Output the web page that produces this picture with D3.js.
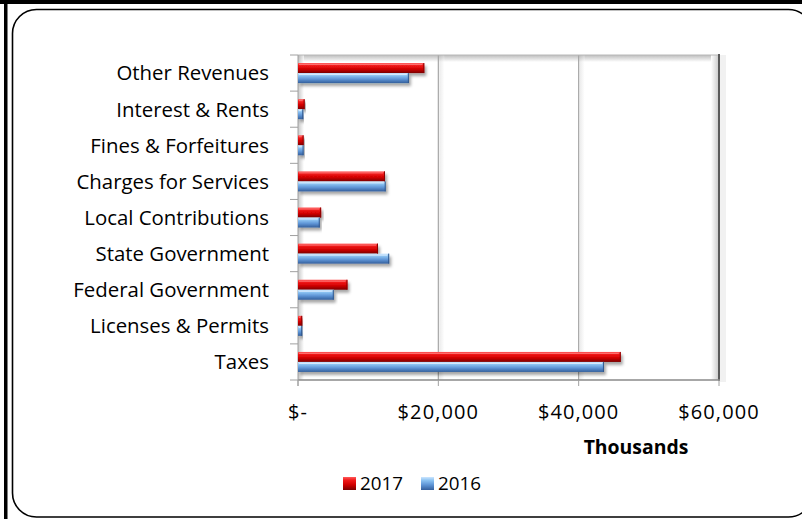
<!DOCTYPE html>
<html><head><meta charset="utf-8">
<script src="https://cdn.jsdelivr.net/npm/d3@7/dist/d3.min.js"></script>
<style>html,body{margin:0;padding:0;background:#fff;}svg{display:block;}</style>
</head><body><svg id="c" width="802" height="519"></svg>
<script>
const categories = ["Other Revenues","Interest & Rents","Fines & Forfeitures","Charges for Services","Local Contributions","State Government","Federal Government","Licenses & Permits","Taxes"];
const series = ["2017","2016"];
const values2017 = [18000, 950, 800, 12400, 3300, 11400, 7050, 600, 46000];
const values2016 = [15800, 750, 800, 12500, 3100, 13000, 5100, 600, 43600];
const xTicks = [0, 20000, 40000, 60000];
const xTickLabels = ["$-", "$20,000", "$40,000", "$60,000"];
const axisTitle = "Thousands";

const svg = d3.select("#c");
const font = "'Open Sans', sans-serif";

// defs
const defs = svg.append("defs");
function grad(id, stops){
  const g = defs.append("linearGradient").attr("id", id).attr("x1",0).attr("y1",0).attr("x2",0).attr("y2",1);
  stops.forEach(s => g.append("stop").attr("offset", s[0]).attr("stop-color", s[1]));
}
grad("gRed", [[0,"#ff5a5a"],[0.25,"#f01818"],[0.6,"#d00000"],[1,"#7a0000"]]);
grad("gBlue", [[0,"#cde6ff"],[0.25,"#8cc3f2"],[0.6,"#5f95d6"],[1,"#345f9c"]]);
const f = defs.append("filter").attr("id","sh").attr("x","-5%").attr("y","-30%").attr("width","115%").attr("height","190%");
f.append("feDropShadow").attr("dx",2).attr("dy",3).attr("stdDeviation",1.6).attr("flood-color","#000").attr("flood-opacity",0.35);
const topShade = defs.append("linearGradient").attr("id","topShade").attr("x1",0).attr("y1",0).attr("x2",0).attr("y2",1);
topShade.append("stop").attr("offset",0).attr("stop-color","#bdbdbd");
topShade.append("stop").attr("offset",1).attr("stop-color","#ffffff");
const rightShade = defs.append("linearGradient").attr("id","rightShade").attr("x1",0).attr("y1",0).attr("x2",1).attr("y2",0);
rightShade.append("stop").attr("offset",0).attr("stop-color","#ffffff");
rightShade.append("stop").attr("offset",1).attr("stop-color","#c8c8c8");
const leftShade = defs.append("linearGradient").attr("id","leftShade").attr("x1",0).attr("y1",0).attr("x2",1).attr("y2",0);
leftShade.append("stop").attr("offset",0).attr("stop-color","#b0b0b0");
leftShade.append("stop").attr("offset",1).attr("stop-color","#ffffff");

// frame
svg.append("rect").attr("x",0).attr("y",0).attr("width",802).attr("height",4).attr("fill","#000");
svg.append("rect").attr("x",4).attr("y",0).attr("width",3.5).attr("height",519).attr("fill","#000");
svg.append("rect").attr("x",12.5).attr("y",9.5).attr("width",800).attr("height",507.5)
  .attr("rx",24).attr("ry",24).attr("fill","#fff").attr("stroke","#000").attr("stroke-width",1.6);

const L = 298, R = 719, T = 55, B = 380;
const x = d3.scaleLinear().domain([0, 60000]).range([L, R]);
const y = d3.scaleBand().domain(categories).range([T, B]).paddingInner(0.446).paddingOuter(0.223);
const ys = d3.scaleBand().domain(series).range([0, y.bandwidth()]);

// back wall shading
const g = svg.append("g");
g.append("rect").attr("x",L).attr("y",T).attr("width",R-L).attr("height",7).attr("fill","url(#topShade)");
g.append("rect").attr("x",R-8).attr("y",T).attr("width",8).attr("height",B-T).attr("fill","url(#rightShade)");
g.append("rect").attr("x",L).attr("y",T).attr("width",6).attr("height",B-T).attr("fill","url(#leftShade)").attr("opacity",0.7);
g.append("rect").attr("x",R+1).attr("y",T).attr("width",6).attr("height",B-T+2).attr("fill","#eee").attr("opacity",0.8);

// gridlines
g.selectAll("line.grid").data(xTicks.slice(1, -1)).join("line")
  .attr("x1", d => x(d)).attr("x2", d => x(d)).attr("y1", T).attr("y2", B)
  .attr("stroke", "#a6a6a6").attr("stroke-width", 1.2);
g.selectAll("rect.gs").data(xTicks.slice(1, -1)).join("rect")
  .attr("x", d => x(d)+1).attr("y", T).attr("width", 5).attr("height", B-T).attr("fill","url(#leftShade)").attr("opacity",0.25);
// top edge
g.append("line").attr("x1",L).attr("x2",R).attr("y1",T).attr("y2",T).attr("stroke","#b8b8b8").attr("stroke-width",1);
// right wall
g.append("line").attr("x1",R).attr("x2",R).attr("y1",T-1).attr("y2",B+1).attr("stroke","#5a5a5a").attr("stroke-width",2);
// floor
g.append("line").attr("x1",L).attr("x2",R+1).attr("y1",B).attr("y2",B).attr("stroke","#8a8a8a").attr("stroke-width",1.5);
// left axis
g.append("line").attr("x1",L).attr("x2",L).attr("y1",T).attr("y2",B+6).attr("stroke","#a0a0a0").attr("stroke-width",1);
// y ticks at band boundaries
const bounds = categories.map(c => y(c) - y.step()*y.paddingInner()/2).concat([B]);
g.selectAll("line.yt").data(bounds).join("line")
  .attr("x1", L-8).attr("x2", L).attr("y1", d => d).attr("y2", d => d)
  .attr("stroke","#a0a0a0").attr("stroke-width",1);
// x ticks
g.selectAll("line.xt").data(xTicks).join("line")
  .attr("x1", d => x(d)).attr("x2", d => x(d)).attr("y1", B).attr("y2", B+6)
  .attr("stroke","#a0a0a0").attr("stroke-width",1);

// bars
const data = [];
categories.forEach((c,i) => {
  data.push({c, s:"2017", v: values2017[i]});
  data.push({c, s:"2016", v: values2016[i]});
});
g.selectAll("rect.bar").data(data).join("rect")
  .attr("x", x(0)).attr("y", d => y(d.c) + ys(d.s))
  .attr("width", d => x(d.v) - x(0)).attr("height", ys.bandwidth())
  .attr("fill", d => d.s === "2017" ? "url(#gRed)" : "url(#gBlue)")
  .attr("filter","url(#sh)");
// bevel highlight
g.selectAll("line.hl").data(data).join("line")
  .attr("x1", x(0)+1).attr("x2", d => Math.max(x(0)+1, x(d.v)-2))
  .attr("y1", d => y(d.c) + ys(d.s) + 1.5).attr("y2", d => y(d.c) + ys(d.s) + 1.5)
  .attr("stroke", d => d.s === "2017" ? "#ff8080" : "#e4f2ff").attr("stroke-width",1).attr("opacity",0.8);
g.selectAll("line.end").data(data).join("line")
  .attr("x1", d => x(d.v)-0.5).attr("x2", d => x(d.v)-0.5)
  .attr("y1", d => y(d.c) + ys(d.s)).attr("y2", d => y(d.c) + ys(d.s) + ys.bandwidth())
  .attr("stroke", d => d.s === "2017" ? "#8a0000" : "#2f568c").attr("stroke-width",1);

// category labels
svg.selectAll("text.cat").data(categories).join("text")
  .attr("x", 269).attr("y", d => y(d) + y.bandwidth()/2)
  .attr("dy","0.36em").attr("text-anchor","end")
  .attr("font-family", font).attr("font-size", 20.4).attr("fill","#000").text(d => d);

// x tick labels
svg.selectAll("text.xl").data(xTicks).join("text")
  .attr("x", d => x(d)).attr("y", 419).attr("text-anchor","middle")
  .attr("font-family", font).attr("font-size", 20).attr("letter-spacing", 1.1).attr("fill","#000")
  .text((d,i) => xTickLabels[i]);

svg.append("text").attr("x", 636).attr("y", 454).attr("text-anchor","middle")
  .attr("font-family", font).attr("font-size", 19.4).attr("font-weight","bold").text(axisTitle);

// legend
const leg = svg.append("g");
const legItems = [{s:"2017", x:343, fill:"url(#gRed)"},{s:"2016", x:421, fill:"url(#gBlue)"}];
leg.selectAll("rect").data(legItems).join("rect")
  .attr("x", d => d.x).attr("y", 477).attr("width", 13).attr("height", 13)
  .attr("fill", d => d.fill);
leg.selectAll("text").data(legItems).join("text")
  .attr("x", d => d.x + 17).attr("y", 490)
  .attr("font-family", font).attr("font-size", 18.8).text(d => d.s);
</script></body></html>
